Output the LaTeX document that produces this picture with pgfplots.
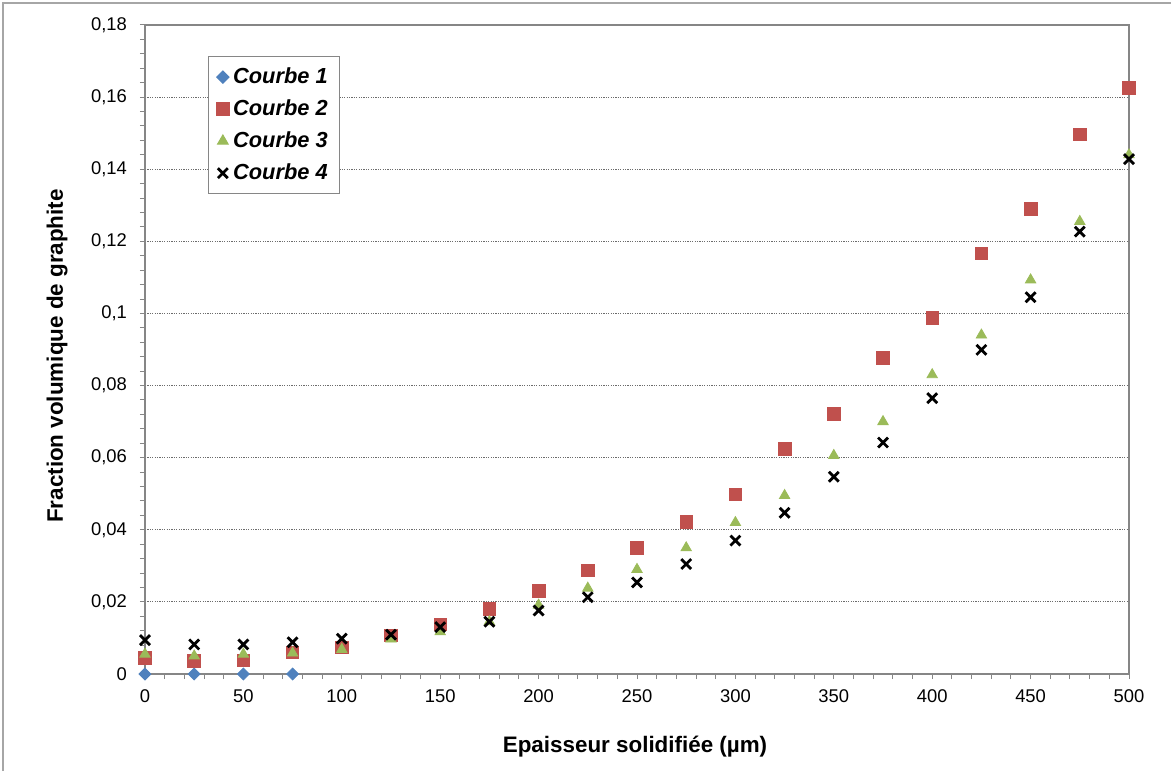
\documentclass[border=0pt]{standalone}
\usepackage{fontspec}
\setmainfont{Liberation Sans}
\usepackage{pgfplots}
\pgfplotsset{compat=1.18}
\definecolor{xblue}{HTML}{4F81BD}
\definecolor{xred}{HTML}{C0504D}
\definecolor{xgreen}{HTML}{9BBB59}
\definecolor{axgray}{HTML}{868686}
\definecolor{framegray}{HTML}{A6A6A6}
\begin{document}
\begin{tikzpicture}
\useasboundingbox (-72.5pt,-48.5pt) rectangle (513pt,337pt);
\draw[framegray, line width=0.8pt] (-71pt,-48.5pt) -- (-71pt,335.5pt) -- (513pt,335.5pt);
\begin{axis}[
  at={(0,0)}, anchor=south west,
  scale only axis, width=492pt, height=324.5pt,
  xmin=0, xmax=500, ymin=0, ymax=0.18,
  clip=false,
  xtick={0,50,...,500},
  ytick={0,0.02,0.04,0.06,0.08,0.1,0.12,0.14,0.16,0.18},
  yticklabels={0,{0,02},{0,04},{0,06},{0,08},{0,1},{0,12},{0,14},{0,16},{0,18}},
  minor x tick num=4, minor y tick num=4,
  tick pos=left, tick align=outside,
  major tick length=2.5pt, minor tick length=2.5pt,
  every tick/.style={axgray, line width=0.5pt},
  axis line style={axgray, line width=0.6pt},
  ymajorgrids,
  major grid style={gray!85!black, dash pattern=on 0.6pt off 0.6pt, line width=0.5pt},
  /pgf/number format/assume math mode=true,
  ticklabel style={font=\fontsize{9.2}{11}\selectfont},
  xticklabel style={yshift=-2pt},
  yticklabel style={xshift=-3pt},
  xlabel={\bfseries Epaisseur solidifiée (µm)},
  ylabel={\bfseries Fraction volumique de graphite},
  label style={font=\fontsize{11.2}{13}\selectfont},
  xlabel style={at={(axis description cs:0.498,-0.1125)}, anchor=center},
  ylabel style={at={(axis description cs:-0.0894,0.49)}, anchor=center},
  legend style={at={(axis description cs:0.064,0.952)}, anchor=north west,
    draw=axgray, fill=white, line width=0.6pt,
    font=\fontsize{10.9}{13}\selectfont\bfseries\itshape,
    inner xsep=4pt, inner ysep=3.5pt, row sep=2.6pt},
  legend cell align=left,
  legend image code/.code={\draw[mark repeat=2,mark phase=2,#1] plot coordinates {(0pt,0pt) (7pt,0pt) (14pt,0pt)};},
]
\addplot[only marks, mark=square*, mark options={rotate=45, fill=xblue, draw=xblue}, mark size=2.1pt]
  coordinates {(0,0) (25,0) (50,0) (75,0)};
\addlegendentry{Courbe 1}
\addplot[only marks, mark=square*, mark options={fill=xred, draw=xred}, mark size=3.15pt]
  table {
x y
0 0.0044
25 0.0037
50 0.0038
75 0.0060
100 0.0074
125 0.0107
150 0.0138
175 0.0180
200 0.0231
225 0.0287
250 0.0350
275 0.0422
300 0.0498
325 0.0624
350 0.0721
375 0.0876
400 0.0988
425 0.1167
450 0.1290
475 0.1497
500 0.1626
};
\addlegendentry{Courbe 2}
\addplot[only marks, mark=triangle*, mark options={fill=xgreen, draw=xgreen}, mark size=3pt]
  table {
x y
0 0.0055
25 0.0050
50 0.0055
75 0.0058
100 0.0068
125 0.0097
150 0.0117
175 0.0145
200 0.0191
225 0.0238
250 0.0290
275 0.0350
300 0.0420
325 0.0495
350 0.0606
375 0.0700
400 0.0830
425 0.0940
450 0.1093
475 0.1255
500 0.1440
};
\addlegendentry{Courbe 3}
\addplot[only marks, mark=x, mark options={draw=black, line width=1.4pt}, mark size=3.5pt]
  table {
x y
0 0.0094
25 0.0082
50 0.0082
75 0.0088
100 0.0098
125 0.0109
150 0.0130
175 0.0145
200 0.0176
225 0.0213
250 0.0254
275 0.0305
300 0.0370
325 0.0447
350 0.0547
375 0.0642
400 0.0765
425 0.0899
450 0.1045
475 0.1227
500 0.1428
};
\addlegendentry{Courbe 4}
\end{axis}
\end{tikzpicture}
\end{document}
